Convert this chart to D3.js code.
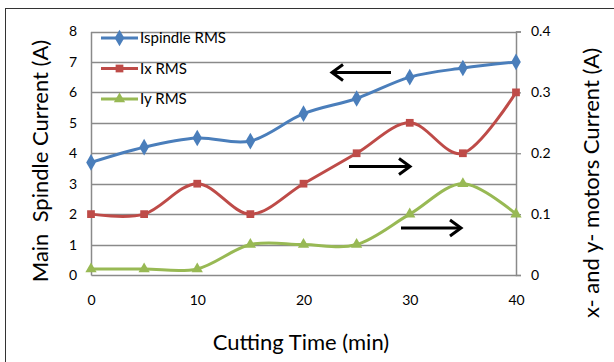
<!DOCTYPE html>
<html>
<head>
<meta charset="utf-8">
<script src="https://cdn.jsdelivr.net/npm/d3@7"></script>
<style>
  html, body { margin: 0; padding: 0; background: #fff; }
  svg { display: block; }
  text { font-family: Lato, "Open Sans", sans-serif; fill: #000; }
</style>
</head>
<body>
<svg id="chart" width="614" height="362"></svg>
<script>
// Cutting time (min)
const times = [0, 5, 10, 15, 20, 25, 30, 35, 40];
// Main spindle RMS current (A), left axis
const spindleRms = [3.7, 4.2, 4.5, 4.4, 5.3, 5.8, 6.5, 6.8, 7.0];
// X and Y feed motor RMS currents (A), right axis
const ixRms = [0.10, 0.10, 0.15, 0.10, 0.15, 0.20, 0.25, 0.20, 0.30];
const iyRms = [0.01, 0.01, 0.01, 0.05, 0.05, 0.05, 0.10, 0.15, 0.10];

const xTicks = [0, 10, 20, 30, 40];
const leftTicks = [0, 1, 2, 3, 4, 5, 6, 7, 8];
const rightTicks = [0, 0.1, 0.2, 0.3, 0.4];

const seriesNames = ["Ispindle RMS", "Ix RMS", "Iy RMS"];
const colors = ["#4a7ebb", "#be4b48", "#98b954"];

const svg = d3.select("#chart");
const gridColor = "#8a8a8a";

// outer frame
svg.append("rect")
  .attr("x", 5.5).attr("y", 8.5).attr("width", 640).attr("height", 400)
  .attr("fill", "none").attr("stroke", "#333").attr("stroke-width", 1);

const plot = { left: 91, right: 516, top: 31.5, bottom: 275 };

const x = d3.scaleLinear().domain([0, 40]).range([plot.left, plot.right]);
const yL = d3.scaleLinear().domain([0, 8]).range([plot.bottom, plot.top]);
const yR = d3.scaleLinear().domain([0, 0.4]).range([plot.bottom, plot.top]);

// horizontal gridlines
svg.append("g").selectAll("line")
  .data(leftTicks.filter(d => d > 0))
  .join("line")
  .attr("x1", plot.left).attr("x2", plot.right)
  .attr("y1", d => Math.round(yL(d)) + 0.5).attr("y2", d => Math.round(yL(d)) + 0.5)
  .attr("stroke", gridColor).attr("stroke-width", 1.3);

// left axis
const gL = svg.append("g").attr("transform", `translate(${plot.left},0)`)
  .call(d3.axisLeft(yL).tickValues(leftTicks).tickSize(0).tickPadding(14).tickFormat(d3.format("d")));
gL.select(".domain").attr("stroke", gridColor).attr("stroke-width", 1.5);
gL.selectAll("text").style("font-size", "14px").style("font-family", "Lato, sans-serif");

// right axis
const gR = svg.append("g").attr("transform", `translate(${plot.right},0)`)
  .call(d3.axisRight(yR).tickValues(rightTicks).tickSize(5).tickPadding(10)
    .tickFormat(d => d === 0 ? "0" : d3.format(".1f")(d)));
gR.select(".domain").attr("stroke", gridColor).attr("stroke-width", 1.5);
gR.selectAll("line").attr("stroke", gridColor).attr("stroke-width", 1.3);
gR.selectAll("text").style("font-size", "14px").style("font-family", "Lato, sans-serif");

// bottom axis
const gB = svg.append("g").attr("transform", `translate(0,${plot.bottom})`)
  .call(d3.axisBottom(x).tickValues(xTicks).tickSize(0).tickPadding(20).tickFormat(d3.format("d")));
gB.select(".domain").attr("stroke", gridColor).attr("stroke-width", 1.5);
gB.selectAll("text").style("font-size", "14px").style("font-family", "Lato, sans-serif");

// series definitions
const series = [
  { name: seriesNames[0], vals: spindleRms, y: yL, color: colors[0], marker: d3.symbolDiamond, size: 80 },
  { name: seriesNames[1], vals: ixRms, y: yR, color: colors[1], marker: d3.symbolSquare, size: 60 },
  { name: seriesNames[2], vals: iyRms, y: yR, color: colors[2], marker: d3.symbolTriangle, size: 55 }
];

// smoothed lines with markers
series.forEach(s => {
  const pts = times.map((t, i) => [x(t), s.y(s.vals[i])]);
  svg.append("path")
    .attr("d", d3.line().curve(d3.curveCatmullRom.alpha(0))(pts))
    .attr("fill", "none").attr("stroke", s.color).attr("stroke-width", 3)
    .attr("stroke-linejoin", "round");
  svg.append("g").selectAll("path")
    .data(pts)
    .join("path")
    .attr("transform", d => `translate(${d[0]},${d[1]})`)
    .attr("d", d3.symbol().type(s.marker).size(s.size))
    .attr("fill", s.color);
});

// legend
const legend = svg.append("g");
series.forEach((s, i) => {
  const ly = 38 + i * 30.5;
  legend.append("line").attr("x1", 101).attr("x2", 138).attr("y1", ly).attr("y2", ly)
    .attr("stroke", s.color).attr("stroke-width", 3);
  legend.append("path").attr("transform", `translate(119.5,${ly})`)
    .attr("d", d3.symbol().type(s.marker).size(s.size))
    .attr("fill", s.color);
  legend.append("text").attr("x", 140).attr("y", ly).attr("dy", "0.35em")
    .style("font-size", "15px").text(s.name);
});

// direction arrows pointing to the relevant axis
const arrows = [
  { x1: 391, x2: 332, y: 72.5 },
  { x1: 349, x2: 410, y: 166.5 },
  { x1: 401, x2: 461, y: 228 }
];
arrows.forEach(a => {
  const dir = Math.sign(a.x2 - a.x1);
  svg.append("line").attr("x1", a.x1).attr("x2", a.x2 - dir * 1).attr("y1", a.y).attr("y2", a.y)
    .attr("stroke", "#000").attr("stroke-width", 3);
  svg.append("path")
    .attr("d", `M${a.x2 - dir * 11},${a.y - 8} L${a.x2},${a.y} L${a.x2 - dir * 11},${a.y + 8}`)
    .attr("fill", "none").attr("stroke", "#000").attr("stroke-width", 3)
    .attr("stroke-linejoin", "miter");
});

// axis titles
svg.append("text")
  .attr("transform", "translate(40,161) rotate(-90)")
  .attr("text-anchor", "middle").attr("dy", "0.35em")
  .style("font-size", "22px").style("white-space", "pre")
  .text("Main  Spindle Current (A)");

svg.append("text")
  .attr("transform", "translate(591,183) rotate(-90)")
  .attr("text-anchor", "middle").attr("dy", "0.35em")
  .style("font-size", "22px")
  .text("x- and y- motors Current (A)");

svg.append("text")
  .attr("x", 301).attr("y", 342).attr("dy", "0.35em")
  .attr("text-anchor", "middle")
  .style("font-size", "22px")
  .text("Cutting Time (min)");
</script>
</body>
</html>
